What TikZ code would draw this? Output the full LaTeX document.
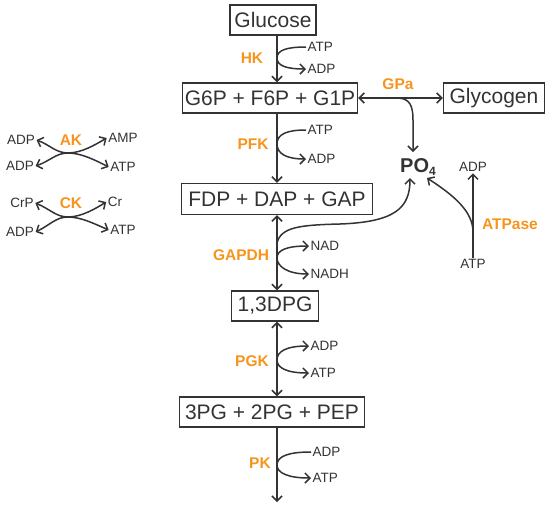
\documentclass[tikz,border=0pt]{standalone}
\usepackage{fontspec}
\setmainfont{Liberation Sans}
\usetikzlibrary{arrows.meta}
\definecolor{ink}{RGB}{51,51,51}
\definecolor{enz}{RGB}{247,148,30}
\begin{document}
\begin{tikzpicture}[x=1pt,y=-1pt,
 box/.style={draw=ink, line width=1.4pt, text=ink, font=\fontsize{21}{21}\selectfont, inner sep=0pt, minimum height=30pt},
 sm/.style={text=ink, font=\fontsize{13.5}{14}\selectfont, inner sep=1.5pt},
 en/.style={text=enz, font=\bfseries\fontsize{15.5}{16}\selectfont, inner sep=0pt},
 ar/.style={draw=ink, line width=1.5pt, -{Straight Barb[length=5pt,width=10pt]}},
 dar/.style={draw=ink, line width=1.5pt, {Straight Barb[length=5pt,width=10pt]}-{Straight Barb[length=5pt,width=10pt]}}
]
\useasboundingbox (0,0) rectangle (550,507);

% main boxes
\node[box, minimum width=86pt] (glu) at (273,20) {Glucose};
\node[box, minimum width=175pt] (g6p) at (270,98) {G6P + F6P + G1P};
\node[box, minimum width=101pt] (gly) at (494,98) {Glycogen};
\node[box, minimum width=191pt, minimum height=31pt] (fdp) at (277,199) {FDP + DAP + GAP};
\node[box, minimum width=87pt] (dpg) at (275,306) {1,3DPG};
\node[box, minimum width=185pt] (pg) at (272,412) {3PG + 2PG + PEP};

\coordinate (ax) at (277,0);
\coordinate (pend) at (277,502);

\draw[ar] (glu.south -| ax) -- (g6p.north -| ax);
\draw[ar] (g6p.south -| ax) -- (fdp.north -| ax);
\draw[dar] (fdp.south -| ax) -- (dpg.north -| ax);
\draw[dar] (dpg.south -| ax) -- (pg.north -| ax);
\draw[ar] (pg.south -| ax) -- (pend);

% HK
\node[sm, anchor=west] (hkatp) at (306,47) {ATP};
\node[sm, anchor=west] (hkadp) at (306,69) {ADP};
\node[en] (hk) at (252,58) {HK};
\coordinate (hkm) at (277,58);
\draw[ar] (hkatp.west) .. controls (287,47) and (277,50) .. (hkm) .. controls (277,66) and (287,69) .. (hkadp.west);

% PFK
\node[sm, anchor=west] (pfatp) at (306,130) {ATP};
\node[sm, anchor=west] (pfadp) at (306,159) {ADP};
\node[en] (pfk) at (253,144) {PFK};
\coordinate (pfm) at (277,144);
\draw[ar] (pfatp.west) .. controls (287,130) and (277,134) .. (pfm) .. controls (277,154) and (287,159) .. (pfadp.west);

% GAPDH
\node[sm, anchor=west] (nad) at (309,246) {NAD};
\node[sm, anchor=west] (nadh) at (309,274) {NADH};
\node[en] (gapdh) at (241,255) {GAPDH};
\coordinate (gm) at (277,258);
\draw[ar] (gm) .. controls (277,250) and (287,246) .. (nad.west);
\draw[ar] (gm) .. controls (277,266) and (287,274) .. (nadh.west);

% PO4
\node[text=ink, font=\bfseries\fontsize{20}{20}\selectfont, inner sep=0pt] (po4) at (418,167) {PO\raisebox{-0.2ex}{\fontsize{12}{12}\selectfont 4}};
\coordinate (gp) at (277,243);
\coordinate (p4s) at (410,178);
\draw[ar] (gp) .. controls (281,227) and (300,225) .. (340,224) .. controls (395,222) and (410,208) .. (p4s);

% GPa
\draw[dar] (g6p.east) -- (gly.west);
\node[en] (gpa) at (398,84) {GPa};
\coordinate (gpm) at (397,98);
\coordinate (p4n) at (413,152);
\draw[ar] (gpm) .. controls (410,98) and (413,106) .. (413,120) -- (p4n);

% ATPase
\node[sm] (tadp) at (473,167) {ADP};
\node[sm] (tatp) at (473,264) {ATP};
\node[en] (atpase) at (510,224) {ATPase};
\draw[ar] (tatp) -- (tadp);
\coordinate (tb) at (473,232);
\coordinate (p4e) at (427,178);
\draw[ar] (tb) .. controls (473,212) and (455,196) .. (p4e);

% PGK
\node[sm, anchor=west] (pgadp) at (309,346) {ADP};
\node[sm, anchor=west] (pgatp) at (309,373) {ATP};
\node[en] (pgk) at (252,361) {PGK};
\coordinate (pgm) at (277,360);
\draw[ar] (pgm) .. controls (277,351) and (287,346) .. (pgadp.west);
\draw[ar] (pgm) .. controls (277,368) and (287,373) .. (pgatp.west);

% PK
\node[sm, anchor=west] (pkadp) at (311,452) {ADP};
\node[sm, anchor=west] (pkatp) at (311,478) {ATP};
\node[en] (pk) at (260,463) {PK};
\coordinate (pkm) at (277,465);
\draw[ar] (pkadp.west) .. controls (289,452) and (277,456) .. (pkm) .. controls (277,473) and (288,478) .. (pkatp.west);

% AK
\node[sm] (ak1) at (21,140) {ADP};
\node[sm] (ak2) at (20,166) {ADP};
\node[sm] (ak3) at (123,138) {AMP};
\node[sm] (ak4) at (123,167) {ATP};
\node[en] (ak) at (71,140) {AK};
\coordinate (akc) at (68,153);
\draw[dar] (ak1.east) .. controls (50,145) and (56,153) .. (akc) .. controls (81,153) and (95,160) .. (ak4.west);
\draw[dar] (ak2.east) .. controls (50,161) and (56,153) .. (akc) .. controls (81,153) and (95,145) .. (ak3.west);

% CK
\node[sm] (ck1) at (22,203) {CrP};
\node[sm] (ck2) at (20,232) {ADP};
\node[sm] (ck3) at (115,202) {Cr};
\node[sm] (ck4) at (123,230) {ATP};
\node[en] (ck) at (71,203) {CK};
\coordinate (ckc) at (68,217);
\draw[dar] (ck1.east) .. controls (50,209) and (56,217) .. (ckc) .. controls (81,217) and (95,224) .. (ck4.west);
\draw[dar] (ck2.east) .. controls (50,225) and (56,217) .. (ckc) .. controls (81,217) and (95,209) .. (ck3.west);
\end{tikzpicture}
\end{document}
